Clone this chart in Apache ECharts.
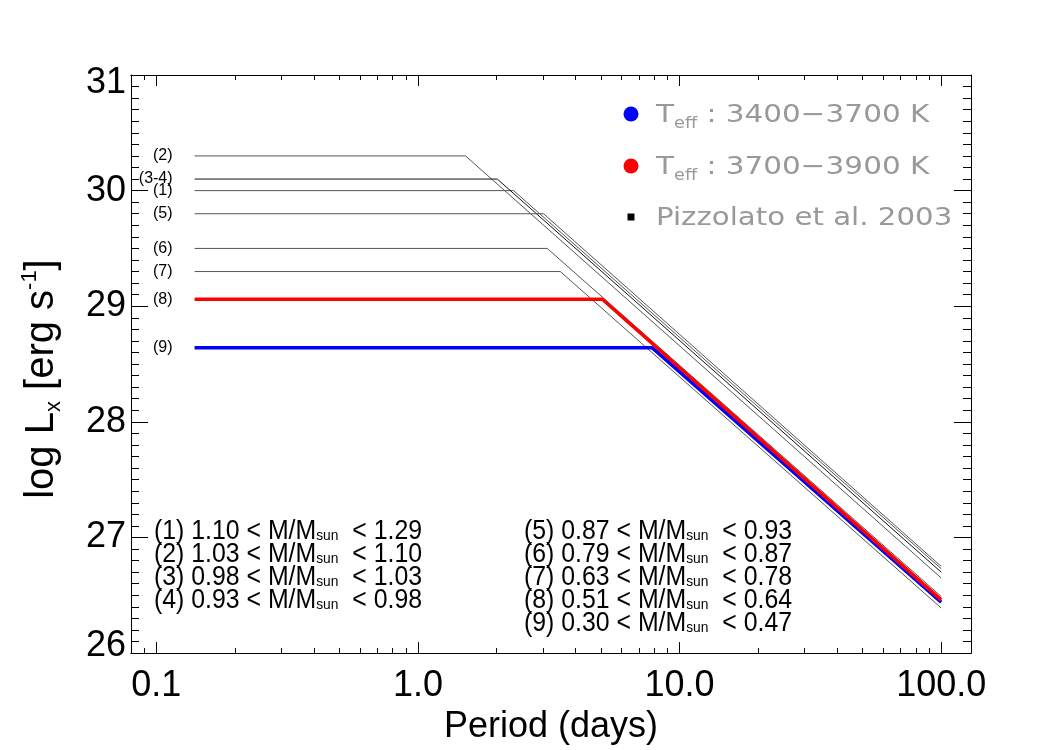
<!DOCTYPE html>
<html>
<head>
<meta charset="utf-8">
<title>log Lx vs Period</title>
<script src="https://cdn.jsdelivr.net/npm/echarts@6/dist/echarts.min.js"></script>
<style>
  html, body { margin: 0; padding: 0; background: #fff; }
  #main { width: 1050px; height: 750px; }
</style>
</head>
<body>
<div id="main"></div>
<script>
// mass groups
var groupTags   = ['(1)', '(2)', '(3-4)', '(5)', '(6)', '(7)', '(8)', '(9)'];
var satLx       = [30.00, 30.30, 30.10, 29.80, 29.50, 29.30, 29.06, 28.64];   // saturated log Lx
var breakPeriod = [2.32, 1.52, 2.01, 3.02, 3.12, 3.50, 5.07, 7.87];           // days
var endLx       = [26.73, 26.65, 26.70, 26.75, 26.49, 26.39, 26.46, 26.44];   // log Lx at 100 d
var startPeriod = 0.14;
var endPeriod = 100;

// mass range legend text
var massTag  = ['(1)', '(2)', '(3)', '(4)', '(5)', '(6)', '(7)', '(8)', '(9)'];
var massLow  = ['1.10', '1.03', '0.98', '0.93', '0.87', '0.79', '0.63', '0.51', '0.30'];
var massHigh = ['1.29', '1.10', '1.03', '0.98', '0.93', '0.87', '0.78', '0.64', '0.47'];

// axes
var xMin = 0.08, xMax = 130;
var yMin = 26, yMax = 31;
var majorTicks = [0.1, 1, 10, 100];
var minorTicks = [0.09, 0.2, 0.3, 0.4, 0.5, 0.6, 0.7, 0.8, 0.9,
                  2, 3, 4, 5, 6, 7, 8, 9,
                  20, 30, 40, 50, 60, 70, 80, 90];

var lg = function (v) { return Math.log10(v); };
var FONT = 'Liberation Sans, Arial, Helvetica, sans-serif';

function xAxisDef(pos, ticks, len, labels) {
    return {
        type: 'value', position: pos,
        min: lg(xMin), max: lg(xMax),
        axisLine: { show: true, onZero: false, lineStyle: { color: '#000', width: 1 } },
        axisTick: { show: true, inside: true, length: len, customValues: ticks.map(lg),
                    lineStyle: { color: '#000', width: 1 } },
        axisLabel: labels ? {
            show: true, customValues: majorTicks.map(lg), margin: 15,
            fontSize: 36, fontFamily: FONT, color: '#000',
            formatter: function (v) { return Math.pow(10, v).toFixed(1).replace('0.10', '0.1'); }
        } : { show: false },
        splitLine: { show: false }
    };
}

function yAxisDef(pos, labels) {
    return {
        type: 'value', position: pos, min: yMin, max: yMax, interval: 1,
        axisLine: { show: true, onZero: false, lineStyle: { color: '#000', width: 1 } },
        axisTick: { show: true, inside: true, length: 17, lineStyle: { color: '#000' } },
        minorTick: { show: true, splitNumber: 10, length: 8, lineStyle: { color: '#000' } },
        axisLabel: labels ? {
            margin: 5, fontSize: 36, fontFamily: FONT, color: '#000',
            formatter: function (v) {
                if (v === yMax) return '{t|' + v + '}';
                if (v === yMin) return '{b|' + v + '}';
                return '{c|' + v + '}';
            },
            rich: {
                t: { fontSize: 36, fontFamily: FONT, color: '#000', padding: [16, 0, 0, 0] },
                b: { fontSize: 36, fontFamily: FONT, color: '#000', padding: [0, 0, 14, 0] },
                c: { fontSize: 36, fontFamily: FONT, color: '#000' }
            }
        } : { show: false },
        splitLine: { show: false }
    };
}

var series = [];
var order = [0, 1, 2, 3, 4, 5, 7, 6];
order.forEach(function (i) {
    var colored = i >= 6;
    series.push({
        type: 'line',
        name: groupTags[i],
        data: [[lg(startPeriod), satLx[i]], [lg(breakPeriod[i]), satLx[i]], [lg(endPeriod), endLx[i]]],
        symbol: 'circle', symbolSize: 0, showSymbol: true,
        lineStyle: {
            color: i === 7 ? '#0000ff' : (i === 6 ? '#ff0000' : (i === 2 ? '#111' : '#555')),
            width: colored ? 3.5 : 1
        },
        itemStyle: { color: 'transparent' },
        label: {
            show: true, position: 'left', distance: 22,
            fontSize: 16, fontFamily: FONT, color: '#000',
            formatter: (function (tag) {
                return function (p) { return p.dataIndex === 0 ? tag : ''; };
            })(groupTags[i])
        },
        z: colored ? 5 : 3,
        silent: true
    });
});

var subRich = {
    m: { fontSize: 27, fontFamily: FONT, fill: '#000', lineHeight: 23 },
    s: { fontSize: 15, fontFamily: FONT, fill: '#000', lineHeight: 12, verticalAlign: 'bottom' }
};
function massLine(k) {
    return '{m|' + massTag[k] + ' ' + massLow[k] + ' < M/M}{s|sun}{m|  < ' + massHigh[k] + '}';
}
var leftBlock = [0, 1, 2, 3].map(massLine).join('\n');
var rightBlock = [4, 5, 6, 7, 8].map(massLine).join('\n');

var GREY = '#999999';
var legRich = {
    m: { fontSize: 25, fontFamily: 'DejaVu Sans', fill: GREY, lineHeight: 34 },
    s: { fontSize: 15, fontFamily: 'DejaVu Sans', fill: GREY, lineHeight: 14, verticalAlign: 'bottom' }
};

var option = {
    animation: false,
    backgroundColor: '#fff',
    grid: { left: 131, top: 75, width: 840, height: 580, containLabel: false },
    xAxis: [
        Object.assign(xAxisDef('bottom', majorTicks, 11, true), {
            name: 'Period (days)', nameLocation: 'middle', nameGap: 43,
            nameTextStyle: { fontSize: 36, fontFamily: FONT, color: '#000' }
        }),
        xAxisDef('bottom', minorTicks, 5, false),
        xAxisDef('top', majorTicks, 11, false),
        xAxisDef('top', minorTicks, 5, false)
    ],
    yAxis: [
        Object.assign(yAxisDef('left', true), {
            name: '{n|log L}{sub|x}{n| [erg s}{sup|-1}{n|]}',
            nameLocation: 'middle', nameGap: 66, nameRotate: 90,
            nameTextStyle: {
                fontFamily: FONT, color: '#000', padding: [0, 30, 0, 0],
                rich: {
                    n: { fontSize: 40, fontFamily: FONT, color: '#000', lineHeight: 46 },
                    sub: { fontSize: 22, fontFamily: FONT, color: '#000', lineHeight: 18, verticalAlign: 'bottom' },
                    sup: { fontSize: 22, fontFamily: FONT, color: '#000', lineHeight: 18, verticalAlign: 'top' }
                }
            }
        }),
        yAxisDef('right', false)
    ],
    graphic: [
        { type: 'text', x: 154, y: 520, scaleX: 0.92, z: 10,
          style: { x: 0, y: 0, text: leftBlock, rich: subRich, verticalAlign: 'top', fill: '#000' } },
        { type: 'text', x: 524, y: 520, scaleX: 0.92, z: 10,
          style: { x: 0, y: 0, text: rightBlock, rich: subRich, verticalAlign: 'top', fill: '#000' } },

        { type: 'circle', shape: { cx: 631, cy: 114, r: 7.5 }, style: { fill: '#0000ff' }, z: 10 },
        { type: 'circle', shape: { cx: 631, cy: 166, r: 7.5 }, style: { fill: '#ff0000' }, z: 10 },
        { type: 'rect', shape: { x: 627.5, y: 213.5, width: 7, height: 7 }, style: { fill: '#000' }, z: 10 },
        { type: 'text', x: 656, y: 115, scaleX: 1.18, z: 10,
          style: { x: 0, y: 0, text: '{m|T}{s|eff}{m| : 3400\u22123700 K}', rich: legRich, verticalAlign: 'middle', fill: GREY } },
        { type: 'text', x: 656, y: 167, scaleX: 1.18, z: 10,
          style: { x: 0, y: 0, text: '{m|T}{s|eff}{m| : 3700\u22123900 K}', rich: legRich, verticalAlign: 'middle', fill: GREY } },
        { type: 'text', x: 656, y: 218, scaleX: 1.17, z: 10,
          style: { x: 0, y: 0, text: '{m|Pizzolato et al. 2003}', rich: legRich, verticalAlign: 'middle', fill: GREY } }
    ],
    series: series
};

var chart = echarts.init(document.getElementById('main'), null, { renderer: 'canvas' });
chart.setOption(option);
</script>
</body>
</html>
